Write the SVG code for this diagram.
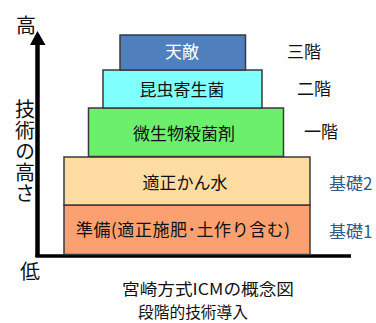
<svg xmlns="http://www.w3.org/2000/svg" width="376" height="323" viewBox="0 0 376 323">
<style>
text{font-family:"Noto Sans CJK JP","Noto Sans",sans-serif;}
.box{stroke:#3a3a3a;stroke-width:1.5;}
.lbl{font-size:17px;fill:#111;text-anchor:middle;}
.lvl{font-size:17px;fill:#111;}
.base{font-size:17px;fill:#2e5a8c;}
.axis{font-size:20px;fill:#111;text-anchor:middle;}
.cap{font-size:15.5px;fill:#111;text-anchor:middle;}
</style>
<rect width="376" height="323" fill="#fff"/>
<g id="connectors">
<line x1="37.5" y1="44" x2="37.5" y2="257" stroke="#000" stroke-width="4.5"/>
<line x1="35.5" y1="256" x2="351" y2="256" stroke="#000" stroke-width="3.5"/>
<polygon points="37.5,31 30,45 45.5,45" fill="#000"/>
</g>
<g id="n5"><rect class="box" x="64" y="205" width="246" height="49.5" fill="#fba070"/><text class="lbl" x="183" y="236" textLength="214" lengthAdjust="spacing">準備(適正施肥･土作り含む)</text></g>
<g id="n4"><rect class="box" x="64" y="157" width="246" height="48" fill="#ffdda2"/><text class="lbl" x="185" y="189">適正かん水</text></g>
<g id="n3"><rect class="box" x="88.5" y="108" width="195" height="48.5" fill="#6cf06c"/><text class="lbl" x="184" y="140">微生物殺菌剤</text></g>
<g id="n2"><rect class="box" x="103" y="70" width="159" height="38" fill="#80ffff"/><text class="lbl" x="182" y="96">昆虫寄生菌</text></g>
<g id="n1"><rect class="box" x="120" y="35" width="125.5" height="35" fill="#4f7fbd" stroke="#1f3050"/><text class="lbl" x="182" y="58" style="fill:#fff">天敵</text></g>
<g id="levels">
<text class="lvl" x="287" y="58">三階</text>
<text class="lvl" x="297" y="95">二階</text>
<text class="lvl" x="304" y="138">一階</text>
<text class="base" x="329" y="190">基礎2</text>
<text class="base" x="329" y="238">基礎1</text>
</g>
<g id="axis-labels">
<text class="axis" x="26" y="33">高</text>
<text x="25" y="99" style="font-size:20px;fill:#111;writing-mode:vertical-rl;letter-spacing:1px">技術の高さ</text>
<text class="axis" x="30" y="279">低</text>
</g>
<g id="caption">
<text class="cap" x="208" y="295" textLength="172" lengthAdjust="spacingAndGlyphs">宮崎方式ICMの概念図</text>
<text class="cap" x="193" y="318" textLength="110" lengthAdjust="spacingAndGlyphs">段階的技術導入</text>
</g>
</svg>
